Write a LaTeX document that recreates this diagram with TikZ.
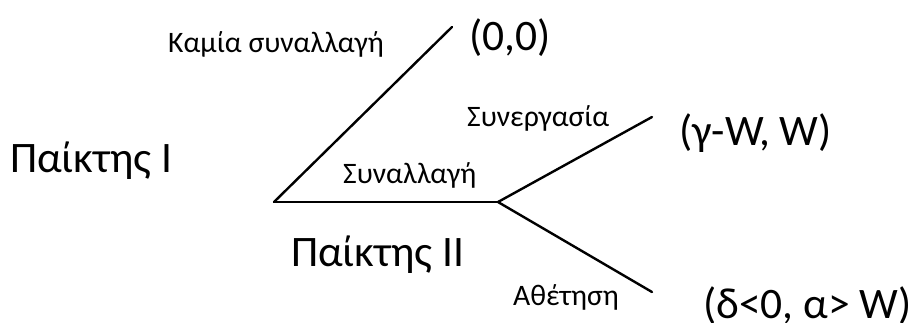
\documentclass[tikz,border=0pt]{standalone}
\usepackage{fontspec}
\setmainfont{Carlito}
\usepackage{tikz}
\usetikzlibrary{positioning, calc}

\begin{document}
\begin{tikzpicture}[x=1pt, y=-1pt,
  branch/.style={line width=2.4pt, line cap=round},
  small/.style={inner sep=0pt, anchor=base west, font=\fontsize{29.7}{34}\selectfont},
  big/.style={inner sep=0pt, anchor=base west, font=\fontsize{43.5}{50}\selectfont}]
  \useasboundingbox (0,0) rectangle (914,322);
  % tree
  \coordinate (root) at (274,202);
  \coordinate (none) at (452,27);
  \coordinate (deal) at (498,202);
  \coordinate (coop) at (652,117);
  \coordinate (defect) at (652,292);
  \draw[branch] (root) -- (none);
  \draw[branch] (root) -- (deal);
  \draw[branch] (deal) -- (coop);
  \draw[branch] (deal) -- (defect);
  % players and moves
  \node[big] (p1) at (10,172) {Παίκτης I};
  \node[big] (p2) at (291,266) {Παίκτης II};
  \node[small] (lnone) at (168,52) {Καμία συναλλαγή};
  \node[small] (ldeal) at (343,183) {Συναλλαγή};
  \node[small] (lcoop) at (467,126) {Συνεργασία};
  \node[small] (ldefect) at (513,305) {Αθέτηση};
  % payoffs
  \node[big] (u1) at (469,50) {(0,0)};
  \node[big] (u2) at (679,145) {(γ-W, W)};
  \node[big] (u3) at (703,318) {(δ<0, α> W)};
\end{tikzpicture}
\end{document}
